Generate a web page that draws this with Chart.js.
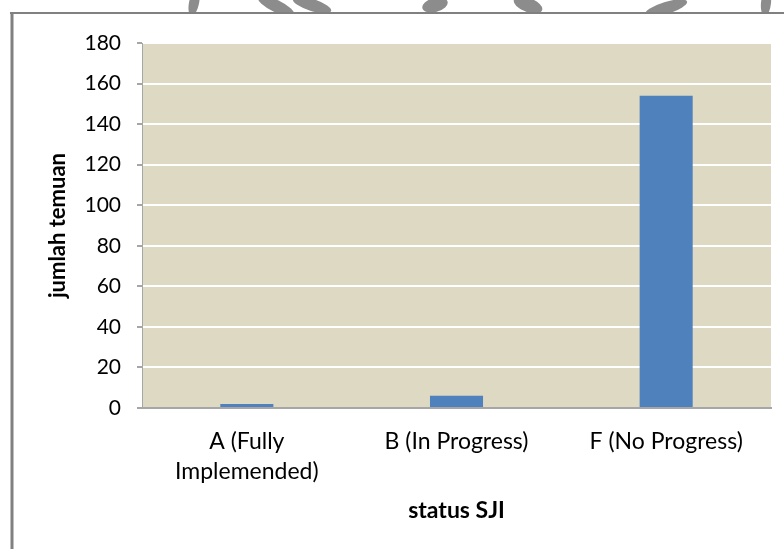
<!DOCTYPE html>
<html>
<head>
<meta charset="utf-8">
<script src="https://cdn.jsdelivr.net/npm/chart.js@4"></script>
<style>
  html, body { margin: 0; padding: 0; background: #ffffff; }
  #wrap { width: 784px; height: 549px; position: relative; }
</style>
</head>
<body>
<div id="wrap"><canvas id="chart" width="784" height="549"></canvas></div>
<script>
// Findings per SJI status
const categories = [['A (Fully', 'Implemended)'], 'B (In Progress)', 'F (No Progress)'];
const findingCounts = [2, 6, 154];
const yTickValues = [0, 20, 40, 60, 80, 100, 120, 140, 160, 180];
const yAxisTitle = 'jumlah temuan';
const xAxisTitle = 'status SJI';

const FONT = 'Lato, "Open Sans", sans-serif';

// Tan plot background, page frame and the partial seal emblem at the top edge
const decorations = {
  id: 'decorations',
  beforeDraw(chart) {
    const { ctx, chartArea: a } = chart;
    ctx.save();
    ctx.fillStyle = '#DDD9C3';
    ctx.fillRect(a.left, a.top, a.right - a.left, a.bottom - a.top);

    // emblem fragments above the frame
    ctx.beginPath();
    ctx.rect(0, 0, 784, 12);
    ctx.clip();
    ctx.fillStyle = '#8c8c8c';
    const blobs = [
      [194, 3, 5, 13, 0.2],
      [276, 6, 20, 6, 0.45],
      [312, 5, 20, 6, 0.3],
      [435, 5, 13, 7, -0.25],
      [528, 5, 15, 7, 0.35],
      [666, 8, 22, 6, -0.3],
      [766, 3, 5, 13, 0.1]
    ];
    blobs.forEach(([x, y, rx, ry, rot]) => {
      ctx.beginPath();
      ctx.ellipse(x, y, rx, ry, rot, 0, Math.PI * 2);
      ctx.fill();
    });
    ctx.restore();

    // frame
    ctx.save();
    ctx.strokeStyle = '#808080';
    ctx.lineWidth = 2;
    ctx.beginPath();
    ctx.moveTo(10, 13);
    ctx.lineTo(784, 13);
    ctx.stroke();
    ctx.lineWidth = 3;
    ctx.beginPath();
    ctx.moveTo(12, 12);
    ctx.lineTo(12, 549);
    ctx.stroke();
    ctx.restore();
  }
};

new Chart(document.getElementById('chart'), {
  type: 'bar',
  data: {
    labels: categories,
    datasets: [{
      data: findingCounts,
      backgroundColor: '#4F81BD',
      borderWidth: 0,
      barPercentage: 0.253,
      categoryPercentage: 1
    }]
  },
  options: {
    responsive: false,
    animation: false,
    devicePixelRatio: 1,
    layout: { padding: { top: 43, right: 13, left: 0, bottom: 0 } },
    plugins: { legend: { display: false }, tooltip: { enabled: false } },
    scales: {
      x: {
        afterFit(scale) { scale.height = 141; },
        grid: { display: false, drawTicks: false },
        border: { display: true, color: '#a6a6a6', width: 2 },
        ticks: {
          color: '#000000',
          font: { family: FONT, size: 23, lineHeight: 1.3 },
          padding: 19,
          maxRotation: 0,
          autoSkip: false
        },
        title: {
          display: true,
          text: xAxisTitle,
          color: '#000000',
          font: { family: FONT, size: 23, weight: 'bold' },
          padding: { top: 0, bottom: 25 }
        }
      },
      y: {
        min: 0,
        max: 180,
        afterFit(scale) { scale.width = 142; },
        afterBuildTicks(scale) { scale.ticks = yTickValues.map(v => ({ value: v })); },
        grid: {
          color: ctx => (ctx.tick && ctx.tick.value === 0) ? 'rgba(0,0,0,0)' : '#ffffff',
          lineWidth: 2,
          tickColor: '#a6a6a6',
          tickLength: 5,
          drawTicks: true
        },
        border: { display: true, color: '#a6a6a6', width: 1 },
        ticks: {
          color: '#000000',
          font: { family: FONT, size: 21 },
          padding: 16
        },
        title: {
          display: true,
          text: yAxisTitle,
          color: '#000000',
          font: { family: FONT, size: 22, weight: 'bold' },
          padding: { top: 45, bottom: 0 }
        }
      }
    }
  },
  plugins: [decorations]
});
</script>
</body>
</html>
